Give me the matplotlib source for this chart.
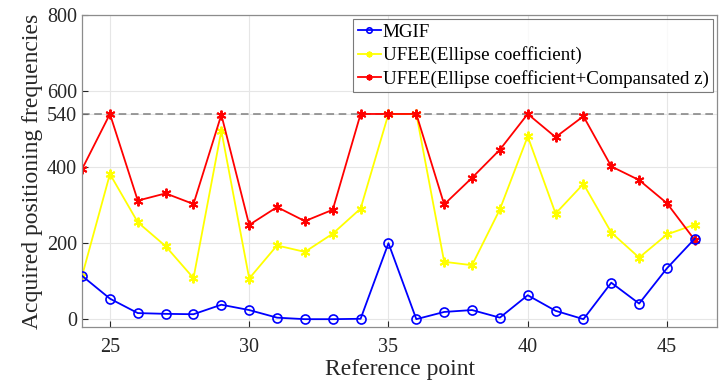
import matplotlib.pyplot as plt

plt.rcParams['font.family'] = ['Liberation Serif', 'DejaVu Serif']

# Reference points and positioning counts per method
ref_points = list(range(24, 47))
mgif = [114, 54, 16, 14, 13, 38, 24, 4, 0, 0, 1, 200,
        0, 19, 24, 4, 63, 22, 0, 96, 41, 134, 212]
ufee_ellipse = [114, 382, 255, 192, 108, 496, 107, 194, 177, 225, 291, 540,
                540, 151, 142, 289, 481, 278, 356, 228, 162, 223, 249]
ufee_comp = [395, 540, 312, 331, 303, 538, 248, 295, 258, 288, 540, 540,
             540, 302, 372, 446, 540, 479, 534, 402, 366, 305, 208]
max_count = 540
y_ticks = [0, 200, 400, 540, 600, 800]
x_ticks = [25, 30, 35, 40, 45]

fig = plt.figure(figsize=(7.2, 3.89), dpi=100)
ax = fig.add_axes([0.114, 0.159, 0.882, 0.802])

ax.axhline(max_count, color='#808080', linestyle=(0, (5, 3)), linewidth=1.1, zorder=1)

ax.plot(ref_points, mgif, color='#0000ff', marker='o', markersize=6.5,
        markerfacecolor='none', markeredgewidth=1.2, linewidth=1.3, label='MGIF', zorder=3)
ax.plot(ref_points, ufee_ellipse, color='#ffff00', marker=(6, 2, 0), markersize=7,
        markeredgewidth=1.4, linewidth=1.3, label='UFEE(Ellipse coefficient)', zorder=2)
ax.plot(ref_points, ufee_comp, color='#ff0000', marker=(6, 2, 0), markersize=7,
        markeredgewidth=1.4, linewidth=1.3,
        label='UFEE(Ellipse coefficient+Compansated z)', zorder=2)

ax.set_xlim(24, 46.8)
ax.set_ylim(-21, 800)
ax.set_xticks(x_ticks)
ax.set_yticks(y_ticks)
ax.tick_params(direction='in', labelsize=14.5, colors='#262626', length=4, width=0.8)
ax.tick_params(axis='x', pad=8)
ax.grid(True, color='#e6e6e6', linewidth=0.8)
ax.set_axisbelow(True)
for s in ax.spines.values():
    s.set_color('#8c8c8c')
    s.set_linewidth(0.9)

ax.set_xlabel('Reference point', fontsize=17, color='#262626', labelpad=1)
ax.set_ylabel('Acquired positioning frequencies', fontsize=17, color='#262626', labelpad=3)

leg = ax.legend(loc='upper right', fontsize=13.7, frameon=True, fancybox=False,
                borderaxespad=0.2, handlelength=1.2, handletextpad=0.1,
                borderpad=0.25, labelspacing=0.28, markerscale=0.6,
                edgecolor='#595959')
leg.get_frame().set_linewidth(0.8)

fig.savefig('out.png', dpi=100)
